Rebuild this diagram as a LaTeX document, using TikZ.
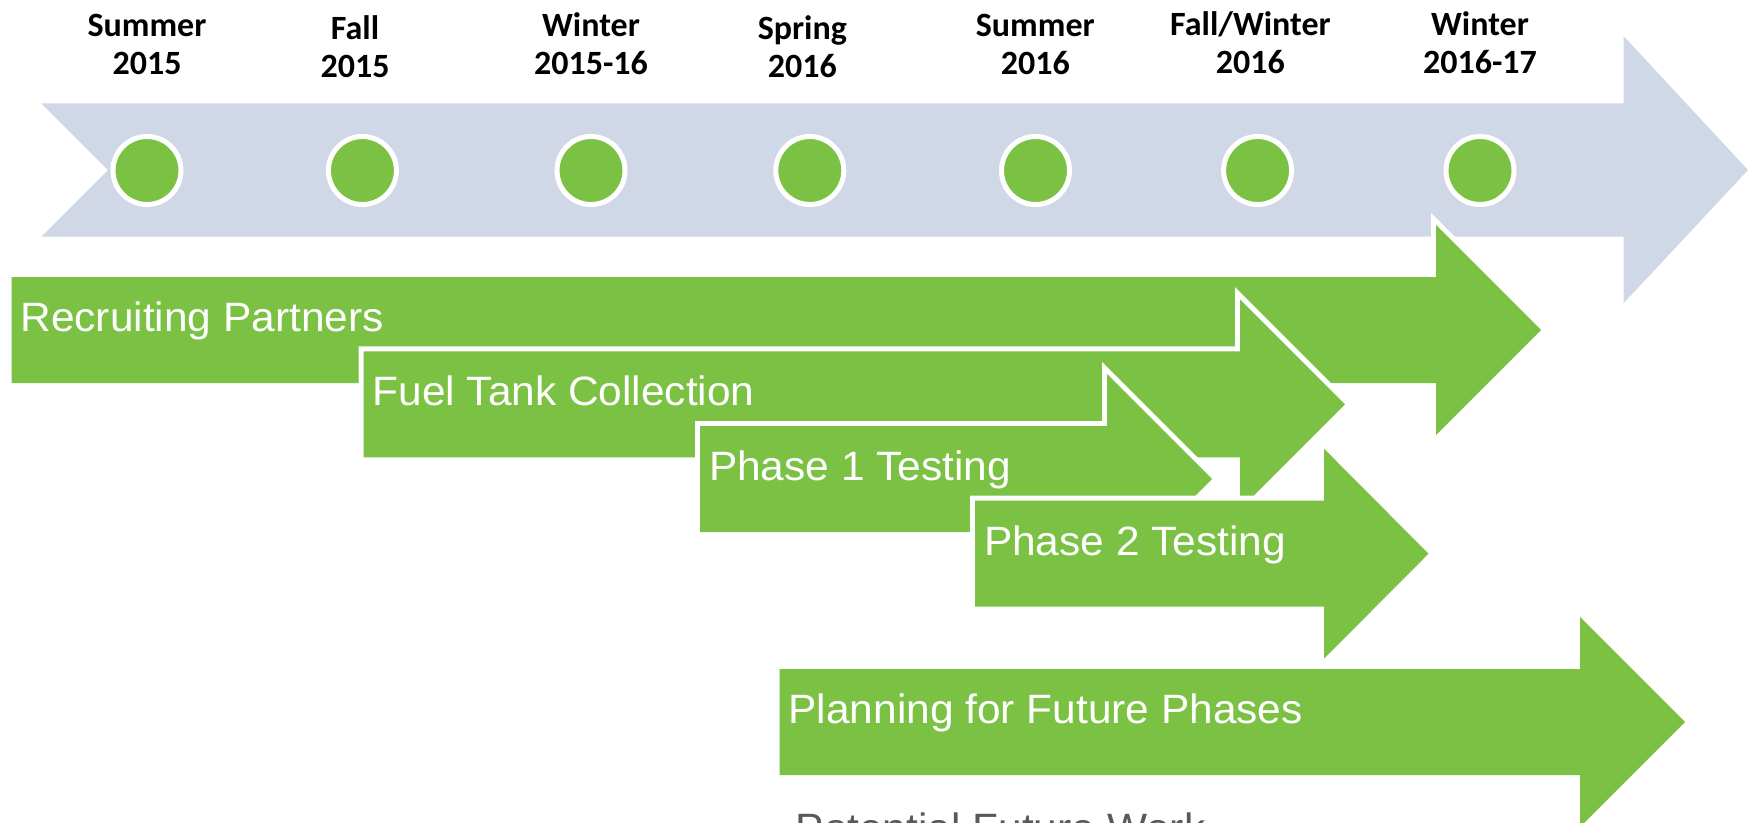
\documentclass[tikz,border=0pt]{standalone}
\usepackage{fontspec}
\setmainfont{Liberation Sans}[FakeStretch=1.035]
\newfontfamily\labfont{Carlito}
\definecolor{agreen}{HTML}{7BC143}
\definecolor{bandblue}{HTML}{D0D8E8}
\definecolor{fwgray}{HTML}{595959}
\tikzset{
  every node/.style={inner sep=0pt, outer sep=0pt},
  phasearrow/.style={fill=agreen, preaction={draw=white, line width=10pt, line join=miter}},
  phasetext/.style={anchor=base west, text=white, font=\fontsize{41}{50}\selectfont},
  season/.style={anchor=base, font=\labfont\bfseries\fontsize{34}{38}\selectfont},
  dot/.style={circle, fill=agreen, draw=white, line width=5pt, minimum size=68pt},
}
% left x, centre y, shaft end x, tip x
\newcommand{\phasearrowshape}[4]{%
  \path[phasearrow] ({#1},{#2-53}) -- ({#3},{#2-53}) -- ({#3},{#2-105}) -- ({#4},{#2})
    -- ({#3},{#2+105}) -- ({#3},{#2+53}) -- ({#1},{#2+53}) -- cycle;}
\newcommand{\seasonlabel}[4]{%
  \node[season] (#1) at (#2) {\setlength{\tabcolsep}{0pt}\begin{tabular}[t]{c}#3\\#4\end{tabular}};}
\begin{document}
\begin{tikzpicture}[x=1pt, y=-1pt]
  \clip (0,0) rectangle (1748,822);
  \fill[white] (0,0) rectangle (1748,822);
  % timeline band
  \fill[bandblue] (41.3,103.3) -- (1623.5,103.3) -- (1623.5,36) -- (1748,170)
    -- (1623.5,303.3) -- (1623.5,236.7) -- (41.3,236.7) -- (108,170) -- cycle;
  % dots
  \node[dot] (d1) at (147,170.5) {};
  \node[dot] (d2) at (362.4,170.5) {};
  \node[dot] (d3) at (591,170.5) {};
  \node[dot] (d4) at (809.8,170.5) {};
  \node[dot] (d5) at (1035.5,170.5) {};
  \node[dot] (d6) at (1257.6,170.5) {};
  \node[dot] (d7) at (1480,170.5) {};
  % season labels
  \seasonlabel{s1}{147,36}{Summer}{2015}
  \seasonlabel{s2}{355,39.3}{Fall}{2015}
  \seasonlabel{s3}{591,36}{Winter}{2015-16}
  \seasonlabel{s4}{802.3,39.3}{Spring}{2016}
  \seasonlabel{s5}{1035.3,36}{Summer}{2016}
  \seasonlabel{s6}{1250.4,35}{Fall/Winter}{2016}
  \seasonlabel{s7}{1480,35}{Winter}{2016-17}
  % phase arrows
  \phasearrowshape{11.5}{330}{1436}{1541}
  \node[phasetext] (t1) at (20.5,331.5) {Recruiting Partners};
  \phasearrowshape{363.5}{404.3}{1240}{1345}
  \node[phasetext] (t2) at (372.5,405.8) {Fuel Tank Collection};
  \phasearrowshape{700}{479}{1107}{1212}
  \node[phasetext] (t3) at (709,480.5) {Phase 1 Testing};
  \phasearrowshape{975}{553.7}{1324}{1428.5}
  \node[phasetext] (t4) at (984,555.2) {Phase 2 Testing};
  \phasearrowshape{779.6}{722}{1580}{1685}
  \node[phasetext] (t5) at (788.6,723.5) {Planning for Future Phases};
  \node[phasetext, text=fwgray] (tf) at (795.7,842.8) {Potential Future Work};
\end{tikzpicture}
\end{document}
